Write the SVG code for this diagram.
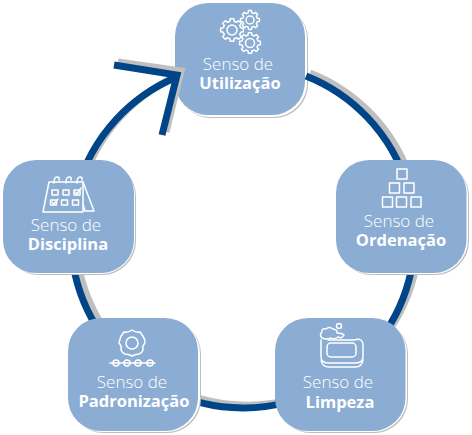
<svg xmlns="http://www.w3.org/2000/svg" width="472" height="435" viewBox="0 0 472 435">
<style>
.box{fill:#8CADD3}.edge{fill:#fff}.sh{fill:#BDBDBD}
.t{font-family:"Open Sans","Liberation Sans",sans-serif;font-size:17px;fill:#fff;text-anchor:middle}
.l{font-weight:300}.b{font-weight:700;font-size:16.5px}
.i{fill:none;stroke:#fff;stroke-width:1.5;stroke-linejoin:round;stroke-linecap:round}
.ring{fill:none;stroke-width:7}
</style>
<defs>
<path id="gear" d="M9.88,-1.56 L9.88,1.56 7.57,1.89 6.69,4.02 8.09,5.88 5.88,8.09 4.02,6.69 1.89,7.57 1.56,9.88 -1.56,9.88 -1.89,7.57 -4.02,6.69 -5.88,8.09 -8.09,5.88 -6.69,4.02 -7.57,1.89 -9.88,1.56 -9.88,-1.56 -7.57,-1.89 -6.69,-4.02 -8.09,-5.88 -5.88,-8.09 -4.02,-6.69 -1.89,-7.57 -1.56,-9.88 1.56,-9.88 1.89,-7.57 4.02,-6.69 5.88,-8.09 8.09,-5.88 6.69,-4.02 7.57,-1.89 Z" vector-effect="non-scaling-stroke"/>
</defs>
<g id="node-utilizacao">
<rect class="sh" x="177" y="5" width="131" height="113" rx="34"/><rect class="edge" x="176" y="4" width="131" height="113" rx="34"/><rect class="box" x="175" y="3" width="130" height="112" rx="33"/>
<g class="i"><use href="#gear" transform="translate(232,30) scale(1.15)"/><circle cx="232" cy="30" r="5"/><use href="#gear" transform="translate(250,20) scale(.95)"/><circle cx="250" cy="20" r="4"/><use href="#gear" transform="translate(250,43) scale(1.05)"/><circle cx="250" cy="43" r="4.5"/></g>
<text class="t l" x="238" y="70">Senso de</text><text class="t b" x="240" y="89">Utilização</text>
</g>
<g id="connectors">
<path class="ring" stroke="#BFBFBF" d="M310,73 A172,172 0 1 1 182,74"/>
<path class="ring" stroke="#BFBFBF" d="M118,62 L181,71 L166,132" stroke-linejoin="miter"/>
<path class="ring" stroke="#004587" d="M306,76 A172,172 0 1 1 177,77"/>
<path class="ring" stroke="#004587" d="M114,65 L177,75 L162,135" stroke-linejoin="miter"/>
</g>
<g id="node-ordenacao">
<rect class="sh" x="338" y="162" width="131" height="113" rx="34"/><rect class="edge" x="337" y="161" width="131" height="113" rx="34"/><rect class="box" x="336" y="160" width="130.500" height="113" rx="33"/>
<g class="i"><rect x="397" y="169" width="10" height="10"/><rect x="389.500" y="183" width="10" height="10"/><rect x="404" y="183" width="10" height="10"/><rect x="382.500" y="197" width="10" height="10"/><rect x="396.500" y="197" width="10" height="10"/><rect x="411" y="197" width="10" height="10"/></g>
<text class="t l" x="399" y="227">Senso de</text><text class="t b" x="401" y="246">Ordenação</text>
</g>
<g id="node-limpeza">
<rect class="sh" x="277" y="320" width="131" height="113" rx="34"/><rect class="edge" x="276" y="319" width="131" height="113" rx="34"/><rect class="box" x="275" y="318" width="130.500" height="113" rx="33"/>
<g class="i"><path d="M328,340 H354 Q363,337 363,346 V356 Q363,363 356,363 H328 Q321,363 321,356 V340"/><rect x="327" y="343" width="29" height="14" rx="4"/><path d="M321,360 Q322,367 329,367 H355 Q362,367 363,360"/><path d="M322,338 Q319,335 322,332 Q321,328 326,329 Q329,326 333,329 Q338,330 337,333 Q342,333 344,335 Q342,339 338,337 Q334,340 331,338 Q326,340 322,338 Z"/><circle cx="339" cy="326" r="2.500"/></g>
<text class="t l" x="338" y="388">Senso de</text><text class="t b" x="340" y="408">Limpeza</text>
</g>
<g id="node-padronizacao">
<rect class="sh" x="70" y="320" width="131" height="113" rx="34"/><rect class="edge" x="69" y="319" width="131" height="113" rx="34"/><rect class="box" x="68" y="318" width="130" height="113" rx="33"/>
<g class="i"><path d="M132,330 Q136,333 140,332 Q142,335 143,336 Q145,339 145,343 Q142,346 143,350 Q142,353 139,354 Q136,354 132,356 Q128,354 125,354 Q122,353 121,350 Q122,346 119,343 Q120,339 121,336 Q122,335 124,332 Q128,333 132,330 Z"/><circle cx="132" cy="343" r="6"/><path d="M110,363 H155"/><circle cx="116" cy="363" r="3"/><circle cx="127" cy="363" r="3"/><circle cx="138" cy="363" r="3"/><circle cx="150" cy="363" r="3"/></g>
<text class="t l" x="132" y="388">Senso de</text><text class="t b" x="134" y="407">Padronização</text>
</g>
<g id="node-disciplina">
<rect class="sh" x="5" y="162" width="131" height="113" rx="34"/><rect class="edge" x="4" y="161" width="131" height="113" rx="34"/><rect class="box" x="3" y="160" width="131" height="113" rx="33"/>
<g class="i"><path d="M49,182 H83 V212 H43 Z"/><path d="M83,182 L94,211 H85 L83,204"/><path d="M54,183 Q54,177 57,177 Q60,177 59,180 M66,183 Q66,177 69,177 Q72,177 71,180 M77,183 Q77,177 80,177 Q83,177 82,180"/><rect x="52" y="190" width="6" height="5"/><rect x="63" y="190" width="6" height="5"/><rect x="74" y="190" width="6" height="5"/><rect x="50.500" y="200" width="6" height="5"/><rect x="61.500" y="200" width="6" height="5"/><rect x="72.500" y="200" width="6" height="5"/><path d="M75,192 L77,194 L81,188 M52,202 L54,204 L58,199"/></g>
<text class="t l" x="66" y="231">Senso de</text><text class="t b" x="68" y="250">Disciplina</text>
</g>
</svg>
